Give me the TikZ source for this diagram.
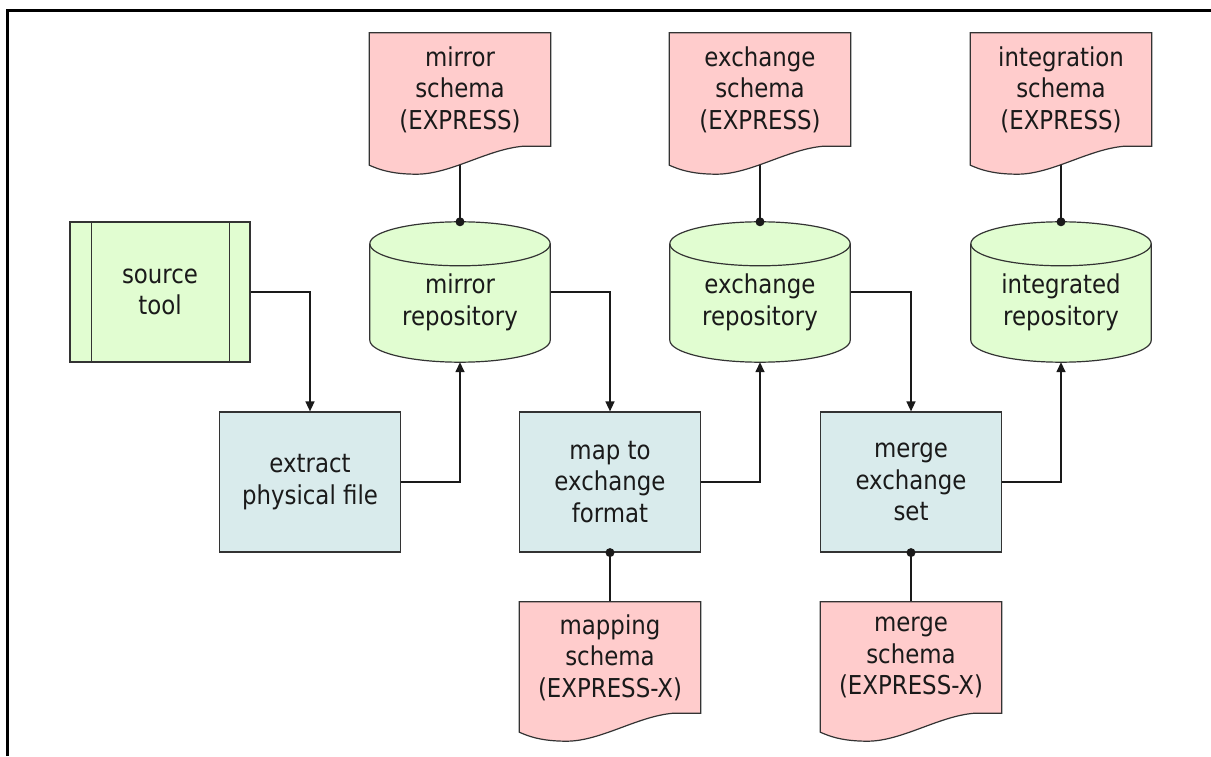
\documentclass[tikz,border=0pt]{standalone}
\usepackage{fontspec}
\setmainfont{DejaVu Sans}[FakeStretch=0.88]
\usetikzlibrary{arrows.meta,calc}

\definecolor{docpink}{HTML}{FFCCCC}
\definecolor{storegreen}{HTML}{E1FDD1}
\definecolor{procblue}{HTML}{D9EBEC}
\definecolor{ink}{HTML}{1A1A1A}
\definecolor{edge}{HTML}{333333}

\pgfdeclarelayer{background}
\pgfdeclarelayer{paper}
\pgfsetlayers{background,paper,main}

% two-line label set a little below the node centre (below the cylinder lid)
\newcommand\lowertext[1]{\raisebox{-11pt}[\height][\depth]{\begin{tabular}{@{}c@{}}#1\end{tabular}}}

% document symbol with a wavy lower edge, around a named node
\newcommand\paperoutline[1]{%
  \path[shapeline, fill=docpink] let \p1=(#1.north west), \p2=(#1.south east), \n1={\x2-\x1} in
    (\x1,\y1) -- (\x2,\y1) -- (\x2,\y2) -- (\x1+0.85*\n1,\y2)
    .. controls (\x1+0.65*\n1,\y2-3pt) and (\x1+0.45*\n1,\y2-28pt) .. (\x1+0.26*\n1,\y2-28pt)
    .. controls (\x1+0.12*\n1,\y2-28pt) and (\x1+0.05*\n1,\y2-23pt) .. (\x1,\y2-19pt) -- cycle;}

% database cylinder around a named node
\newcommand\drumoutline[1]{%
  \path[shapeline, fill=storegreen] let \p1=(#1.north west), \p2=(#1.south east), \n1={(\x2-\x1)/2} in
    (\x1,\y1-22pt) -- (\x1,\y2+22pt)
    arc[start angle=180, end angle=360, x radius=\n1, y radius=22pt]
    -- (\x2,\y1-22pt)
    arc[start angle=0, end angle=180, x radius=\n1, y radius=22pt] -- cycle;
  \path[shapeline] let \p1=(#1.north west), \p2=(#1.south east), \n1={(\x2-\x1)/2} in
    (\x1,\y1-22pt) arc[start angle=180, end angle=360, x radius=\n1, y radius=22pt];}

\tikzset{
  every node/.style={font={\fontsize{26}{31.5}\selectfont}, text=ink},
  shapeline/.style={draw=edge, line width=1.2pt},
  proc/.style={rectangle, draw=edge, line width=1.2pt, fill=procblue,
    minimum width=181pt, minimum height=140pt, align=center, inner sep=0pt},
  toolbox/.style={proc, fill=storegreen, minimum width=180pt},
  store/.style={rectangle, minimum width=180pt, minimum height=140pt, inner sep=0pt},
  paper/.style={rectangle, minimum width=181pt, align=center, inner sep=0pt},
  flow/.style={draw=ink, line width=1.5pt, -{Triangle[length=10pt,width=9pt]}},
  tie/.style={draw=ink, line width=1.5pt},
}

\begin{document}
\begin{tikzpicture}[x=1pt,y=1pt]
\useasboundingbox (0,0) rectangle (1211,756);

% frame
\draw[black, line width=2.4pt, line join=miter] (7.5,0) -- (7.5,745.5) -- (1211,745.5);

% source tool
\node[toolbox] (src) at (160,464) {source\\tool};
\draw[shapeline] ([xshift=22pt]src.north west) -- ([xshift=22pt]src.south west);
\draw[shapeline] ([xshift=-21pt]src.north east) -- ([xshift=-21pt]src.south east);

% processes
\node[proc] (ext)  at (310,274) {extract\\physical file};
\node[proc] (mapp) at (610,274) {map to\\exchange\\format};
\node[proc] (merg) at (911,274) {merge\\exchange\\set};

% repositories
\node[store] (mrep) at (460,464)  {\lowertext{mirror\\repository}};
\node[store] (xrep) at (760,464)  {\lowertext{exchange\\repository}};
\node[store] (irep) at (1061,464) {\lowertext{integrated\\repository}};

% schemas
\node[paper, minimum height=113pt] (msch) at (460,666.5)  {mirror\\schema\\(EXPRESS)};
\node[paper, minimum height=113pt] (xsch) at (760,666.5)  {exchange\\schema\\(EXPRESS)};
\node[paper, minimum height=113pt] (isch) at (1061,666.5) {integration\\schema\\(EXPRESS)};
\node[paper, minimum height=111pt] (mpsch) at (610,98.5) {mapping\\schema\\(EXPRESS-X)};
\node[paper, minimum height=111pt] (mgsch) at (911,98.5) {merge\\schema\\(EXPRESS-X)};

\begin{pgfonlayer}{paper}
  \drumoutline{mrep}
  \drumoutline{xrep}
  \drumoutline{irep}
  \paperoutline{msch}
  \paperoutline{xsch}
  \paperoutline{isch}
  \paperoutline{mpsch}
  \paperoutline{mgsch}
\end{pgfonlayer}

\begin{pgfonlayer}{background}
  \draw[flow] (src.east)  -| (ext.north);
  \draw[flow] (ext.east)  -| (mrep.south);
  \draw[flow] (mrep.east) -| (mapp.north);
  \draw[flow] (mapp.east) -| (xrep.south);
  \draw[flow] (xrep.east) -| (merg.north);
  \draw[flow] (merg.east) -| (irep.south);
  \draw[tie] (msch.south) -- (mrep.north);
  \draw[tie] (xsch.south) -- (xrep.north);
  \draw[tie] (isch.south) -- (irep.north);
  \draw[tie] (mapp.south) -- (mpsch.north);
  \draw[tie] (merg.south) -- (mgsch.north);
\end{pgfonlayer}

% joint dots
\fill[ink] (mrep.north) circle[radius=4.5pt];
\fill[ink] (xrep.north) circle[radius=4.5pt];
\fill[ink] (irep.north) circle[radius=4.5pt];
\fill[ink] (mapp.south) circle[radius=4.5pt];
\fill[ink] (merg.south) circle[radius=4.5pt];
\end{tikzpicture}
\end{document}
